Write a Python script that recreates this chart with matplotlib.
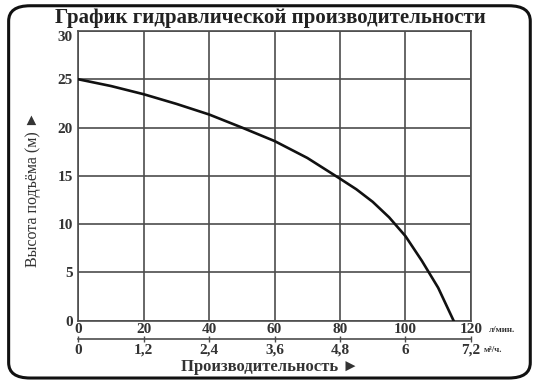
import matplotlib
matplotlib.use("Agg")
import matplotlib.pyplot as plt
from matplotlib.patches import FancyBboxPatch

# flow (l/min) vs head (m)
flow = [0, 10, 20, 30, 40, 50, 60, 70, 80, 85, 90, 95, 100, 105, 110, 114.7]
head = [25, 24.3, 23.45, 22.45, 21.35, 20.0, 18.6, 16.85, 14.7, 13.6, 12.3, 10.7, 8.75, 6.2, 3.4, 0]

lpm_ticks = [0, 20, 40, 60, 80, 100, 120]
m3h_labels = ["0", "1,2", "2,4", "3,6", "4,8", "6", "7,2"]
head_ticks = [0, 5, 10, 15, 20, 25, 30]

serif = ["Liberation Serif", "DejaVu Serif"]
plt.rcParams["font.family"] = serif

fig = plt.figure(figsize=(5.4, 3.83), dpi=100)
ax = fig.add_axes([0.145, 0.163, 0.727, 0.756])

grid_col = "#4d4d4d"
txt_col = "#333333"

ax.plot(flow, head, color="#111111", lw=1.9, zorder=3, solid_joinstyle="round")
ax.set_xlim(0, 120)
ax.set_ylim(0, 30)
ax.set_xticks(lpm_ticks)
ax.set_yticks(head_ticks)
ax.grid(True, color=grid_col, lw=1.2)
for s in ax.spines.values():
    s.set_color(grid_col)
    s.set_linewidth(1.2)
ax.tick_params(length=0, pad=4, labelsize=11, labelcolor=txt_col)
ax.tick_params(axis="x", pad=2)
for lab in ax.get_xticklabels() + ax.get_yticklabels():
    lab.set_fontweight("bold")
# top label sits a little under the title
ax.get_yticklabels()[-1].set_verticalalignment("top")

# second scale, m3/h
ax2 = fig.add_axes([0.145, 0.115, 0.727, 0.001])
ax2.set_xlim(0, 120)
ax2.set_yticks([])
for k in ["top", "left", "right"]:
    ax2.spines[k].set_visible(False)
ax2.spines["bottom"].set_color(grid_col)
ax2.spines["bottom"].set_linewidth(1.2)
ax2.set_xticks(lpm_ticks)
ax2.set_xticklabels(m3h_labels, fontweight="bold")
ax2.tick_params(axis="x", direction="inout", length=5, width=1, color=grid_col,
                pad=1, labelsize=11, labelcolor=txt_col)

fig.text(0.906, 0.138, "л/мин.", fontsize=6.5, fontweight="bold", color=txt_col,
         va="center", ha="left")
fig.text(0.896, 0.085, "м³/ч.", fontsize=6.5, fontweight="bold", color=txt_col,
         va="center", ha="left")

fig.text(0.5, 0.941, "График гидравлической производительности", ha="center",
         va="baseline", fontsize=15, fontweight="bold", color="#222222")
fig.text(0.5, 0.042, "Производительность ►", ha="center", va="center",
         fontsize=12, fontweight="bold", color=txt_col)
# rotated 90 degrees, so the right-pointing arrow ends up pointing up
fig.text(0.061, 0.505, "Высота подъёма (м) ►", rotation=90, ha="center",
         va="center", fontsize=11.5, color=txt_col)

frame = FancyBboxPatch((0.016, 0.013), 0.966, 0.972,
                       boxstyle="round,pad=0,rounding_size=0.04",
                       transform=fig.transFigure, fill=False, ec="#111111", lw=2.2)
fig.patches.append(frame)

fig.savefig("out.png", dpi=100)
